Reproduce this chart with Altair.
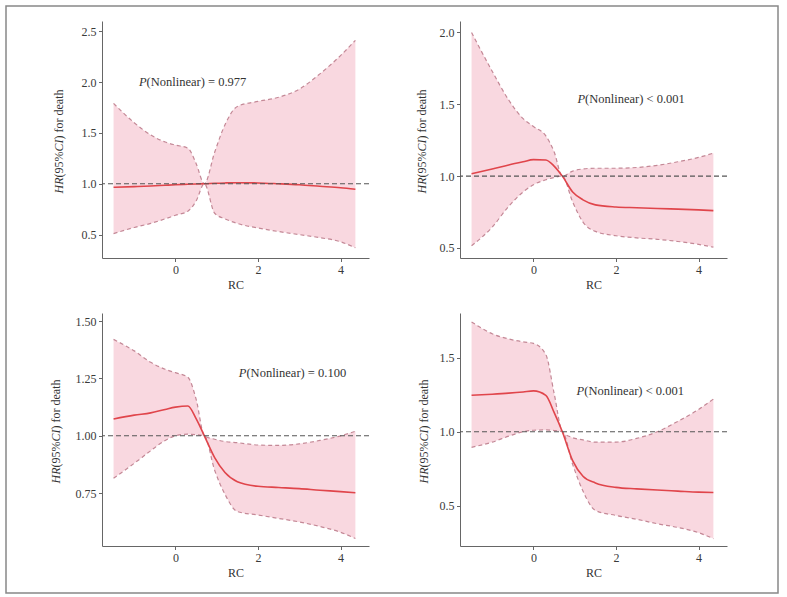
import altair as alt
import pandas as pd

# ---------------- data ----------------
RC = [-1.5, -1.0, -0.6, -0.25, 0.0, 0.3, 0.5, 0.7, 0.95, 1.2, 1.5, 2.0, 2.5, 3.0, 3.5, 4.0, 4.36]

P1_UP = [1.79, 1.60, 1.48, 1.41, 1.38, 1.35, 1.20, 1.00, 1.31, 1.58, 1.76, 1.81, 1.85, 1.93, 2.08, 2.26, 2.41]
P1_MID = [0.965, 0.972, 0.978, 0.985, 0.99, 0.995, 0.998, 1.0, 1.005, 1.008, 1.01, 1.008, 1.0, 0.99, 0.975, 0.96, 0.945]
P1_LOW = [0.51, 0.57, 0.61, 0.655, 0.69, 0.73, 0.83, 1.0, 0.71, 0.655, 0.61, 0.565, 0.53, 0.50, 0.47, 0.43, 0.37]

P2_UP = [2.00, 1.73, 1.53, 1.40, 1.345, 1.28, 1.17, 1.00, 1.035, 1.05, 1.055, 1.055, 1.06, 1.075, 1.10, 1.13, 1.16]
P2_MID = [1.017, 1.05, 1.078, 1.10, 1.115, 1.112, 1.07, 1.0, 0.89, 0.835, 0.80, 0.785, 0.78, 0.775, 0.77, 0.765, 0.76]
P2_LOW = [0.515, 0.645, 0.79, 0.89, 0.94, 0.975, 0.99, 1.0, 0.82, 0.68, 0.615, 0.585, 0.57, 0.56, 0.545, 0.525, 0.505]

P3_UP = [1.42, 1.37, 1.32, 1.29, 1.275, 1.255, 1.16, 1.00, 0.985, 0.975, 0.97, 0.96, 0.958, 0.965, 0.98, 1.0, 1.02]
P3_MID = [1.073, 1.09, 1.10, 1.115, 1.125, 1.13, 1.075, 1.0, 0.905, 0.84, 0.80, 0.78, 0.775, 0.77, 0.763, 0.757, 0.752]
P3_LOW = [0.815, 0.88, 0.935, 0.98, 1.0, 1.007, 1.005, 1.0, 0.85, 0.745, 0.67, 0.655, 0.64, 0.625, 0.605, 0.58, 0.553]

P4_UP = [1.74, 1.66, 1.625, 1.605, 1.595, 1.52, 1.26, 1.00, 0.96, 0.945, 0.93, 0.93, 0.955, 1.0, 1.07, 1.15, 1.22]
P4_MID = [1.246, 1.253, 1.26, 1.268, 1.275, 1.245, 1.13, 1.0, 0.805, 0.70, 0.655, 0.625, 0.615, 0.607, 0.60, 0.593, 0.59]
P4_LOW = [0.895, 0.93, 0.97, 1.0, 1.01, 1.012, 1.008, 1.0, 0.78, 0.60, 0.47, 0.436, 0.41, 0.38, 0.355, 0.32, 0.28]

X_TICKS = [0, 2, 4]
Y_TICKS = [[0.5, 1.0, 1.5, 2.0, 2.5], [0.5, 1.0, 1.5, 2.0], [0.75, 1.00, 1.25, 1.50], [0.5, 1.0, 1.5]]
Y_FORMATS = [".1f", ".1f", ".2f", ".1f"]
Y_DOMAINS = [[0.27, 2.6], [0.43, 2.08], [0.52, 1.535], [0.23, 1.80]]
X_DOMAIN = [-1.78, 4.69]

P_TEXTS = ["(Nonlinear) = 0.977", "(Nonlinear) < 0.001", "(Nonlinear) = 0.100", "(Nonlinear) < 0.001"]
P_X = [-0.70, 1.25, 1.72, 1.23]
P_Y = [2.0, 1.54, 1.274, 1.275]
REF = [1.0]

# ---------------- style ----------------
FONT = "Liberation Serif"
FILL = "#F9D8E0"
BAND = "#C48896"
MID = "#E0454B"
TXT = "#333333"
W = 267
H_TOP = 237
H_BOT = 233
TITLE_DX = [-43, -38, -46, -36]
FS = 12


def panel(i, low, mid, up, height, frame=False):
    df = pd.DataFrame({"RC": RC, "low": low, "mid": mid, "up": up})
    base = alt.Chart(df)
    xs = alt.Scale(domain=X_DOMAIN, nice=False, zero=False)
    ys = alt.Scale(domain=Y_DOMAINS[i], nice=False, zero=False)
    xax = alt.Axis(values=X_TICKS, format="d", title="RC")
    yax = alt.Axis(values=Y_TICKS[i], format=Y_FORMATS[i], title=None)
    X = alt.X("RC:Q", scale=xs, axis=xax)

    area = base.mark_area(color=FILL, opacity=1, interpolate="monotone").encode(
        x=X, y=alt.Y("low:Q", scale=ys, axis=yax), y2="up:Q")
    lo = base.mark_line(color=BAND, strokeDash=[4, 3], strokeWidth=1.2, interpolate="monotone").encode(
        x=alt.X("RC:Q", scale=xs), y=alt.Y("low:Q", scale=ys))
    hi = base.mark_line(color=BAND, strokeDash=[4, 3], strokeWidth=1.2, interpolate="monotone").encode(
        x=alt.X("RC:Q", scale=xs), y=alt.Y("up:Q", scale=ys))
    md = base.mark_line(color=MID, strokeWidth=1.6, interpolate="monotone").encode(
        x=alt.X("RC:Q", scale=xs), y=alt.Y("mid:Q", scale=ys))
    ref = alt.Chart(pd.DataFrame({"ref": REF})).mark_rule(
        color="#555555", strokeDash=[5, 3], strokeWidth=1.1).encode(y=alt.Y("ref:Q", scale=ys))

    tdf = pd.DataFrame({"tx": [P_X[i]], "ty": [P_Y[i]], "t": [P_TEXTS[i]]})
    tb = alt.Chart(tdf)
    pit = tb.mark_text(font=FONT, fontSize=12.5, fontStyle="italic", align="right", baseline="middle",
                       color=TXT).encode(x=alt.X("tx:Q", scale=xs), y=alt.Y("ty:Q", scale=ys),
                                         text=alt.value("P"))
    prest = tb.mark_text(font=FONT, fontSize=12.5, align="left", baseline="middle",
                         color=TXT).encode(x=alt.X("tx:Q", scale=xs), y=alt.Y("ty:Q", scale=ys),
                                           text="t:N")

    # y-axis title built from pieces so that HR and CI are italic
    one = alt.Chart(pd.DataFrame({"a": [0]}))
    c = height / 2 + 2
    a_pos = c + 52 - 16
    b_pos = a_pos - 38
    dx = TITLE_DX[i]
    pieces = [("HR", "italic", "right", a_pos), ("(95%", "normal", "left", a_pos),
              ("CI", "italic", "right", b_pos), (") for death", "normal", "left", b_pos)]
    tlayers = []
    for txt, style, al, yy in pieces:
        tlayers.append(one.mark_text(font=FONT, fontSize=FS, fontStyle=style, align=al, baseline="middle",
                                     angle=270, color=TXT).encode(
            x=alt.value(dx), y=alt.value(yy), text=alt.value(txt)))

    layers = [area, lo, hi, md, ref, pit, prest] + tlayers
    if frame:
        layers.append(one.mark_rect(fillOpacity=0, stroke="#888888", strokeWidth=1.5).encode(
            x=alt.value(-96), x2=alt.value(676), y=alt.value(-15), y2=alt.value(572)))
    return alt.layer(*layers).properties(width=W, height=height)


p1 = panel(0, P1_LOW, P1_MID, P1_UP, H_TOP, frame=True)
p2 = panel(1, P2_LOW, P2_MID, P2_UP, H_TOP)
p3 = panel(2, P3_LOW, P3_MID, P3_UP, H_BOT)
p4 = panel(3, P4_LOW, P4_MID, P4_UP, H_BOT)

chart = alt.concat(
    p1, p2, p3, p4, columns=2, bounds="flush",
    spacing=alt.RowColnumber(row=55, column=91),
).properties(
    padding=5, background="white"
).configure_view(stroke=None).configure_axis(
    grid=False,
    domainColor="#666666",
    domainWidth=1,
    tickColor="#666666",
    tickSize=3.5,
    labelFont=FONT,
    labelFontSize=FS,
    labelColor="#3a3a3a",
    labelPadding=2.5,
    titleFont=FONT,
    titleFontSize=FS,
    titleFontWeight="normal",
    titleColor=TXT,
    titlePadding=4,
)

chart.save("out.html", embed_options={"renderer": "svg", "actions": False})
